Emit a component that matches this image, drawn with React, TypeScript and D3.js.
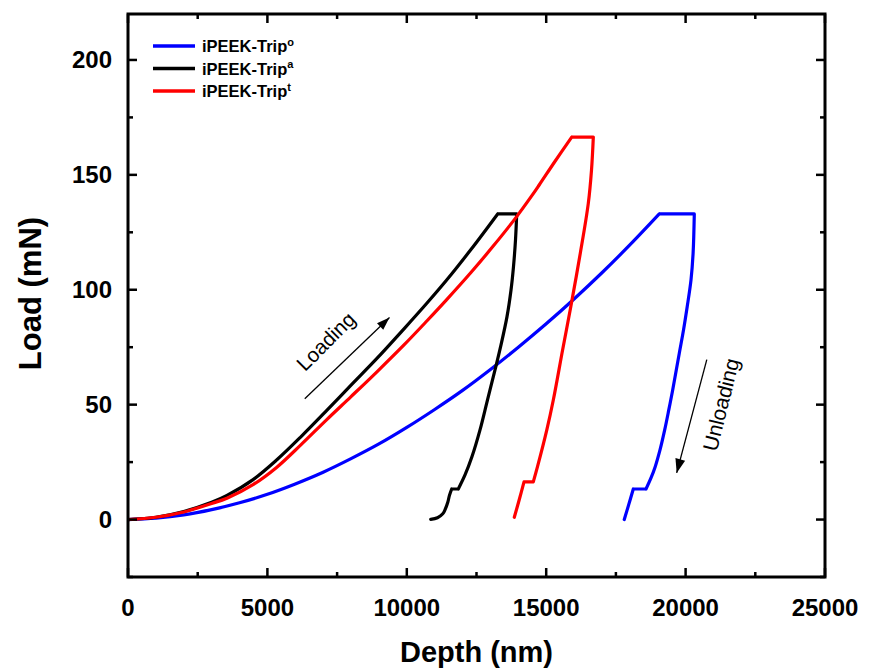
import React from "react";
import * as d3 from "d3";

// ---- Data (Depth nm, Load mN) ----
const seriesNames = ["iPEEK-Trip", "iPEEK-Trip", "iPEEK-Trip"];
const seriesSups = ["o", "a", "t"];
const seriesColors = ["#0000FF", "#000000", "#FF0000"];

const blueLoading: [number, number][] = [
  [0, 0], [1000, 0.6], [2000, 2.0], [3000, 4.3], [4000, 7.3], [5000, 11.0], [6000, 15.5],
  [7000, 20.6], [8000, 26.5], [9000, 32.9], [10000, 40.1], [11000, 47.9], [12000, 56.2],
  [13000, 65.3], [14000, 75.0], [15000, 85.2], [16000, 96.0], [17000, 107.4], [18000, 119.5],
  [19056, 133.0],
];
const blueUnloading: [number, number][] = [
  [20312, 133.0], [20269, 115.9], [20194, 104.3], [20057, 92.6], [19925, 82.5], [19774, 72.4],
  [19537, 56.4], [19397, 47.7], [19250, 39.0], [19082, 30.3], [18910, 23.0], [18759, 18.1],
  [18580, 13.3],
];
const blueTail: [number, number][] = [
  [18124, 13.3], [17960, 6.5], [17800, 0],
];

const blackLoading: [number, number][] = [
  [0, 0], [1000, 1.0], [2000, 3.5], [3000, 7.5], [3550, 10.5], [4500, 17.5], [5340, 26.0],
  [6200, 36.0], [7130, 47.5], [8000, 58.5], [8920, 70.0], [9900, 83.0], [10710, 94.0],
  [11415, 104.0], [12300, 117.5], [13260, 133.0],
];
const blackUnloading: [number, number][] = [
  [13942, 133.0], [13899, 121.7], [13827, 110.1], [13738, 99.9], [13594, 88.3], [13379, 76.0],
  [13164, 65.1], [12895, 52.1], [12626, 39.0], [12339, 27.4], [12088, 19.4], [11847, 13.3],
];
const blackTail: [number, number][] = [
  [11610, 13.3], [11530, 10.5], [11470, 7.5], [11380, 4.5], [11290, 2.5], [11100, 0.8], [10857, 0.1],
];

const redLoading: [number, number][] = [
  [0, 0], [1000, 1.0], [2000, 3.3], [3000, 7.0], [3550, 9.3], [4500, 15.3], [5340, 22.8],
  [6200, 32.5], [7130, 43.5], [8000, 53.5], [8920, 64.2], [9900, 76.0], [10710, 86.3],
  [11415, 95.5], [12300, 107.5], [13100, 119.0], [13920, 131.5], [14460, 140.5],
  [14760, 145.8], [15300, 155.6], [15915, 166.4],
];
const redUnloading: [number, number][] = [
  [16690, 166.4], [16625, 152.1], [16510, 137.6], [16223, 115.9], [15882, 92.6], [15588, 73.8],
  [15255, 52.0], [15022, 39.0], [14688, 23.0], [14537, 16.4],
];
const redTail: [number, number][] = [
  [14204, 16.4], [14030, 8.5], [13856, 1.0],
];

const xTicks = [0, 5000, 10000, 15000, 20000, 25000];
const xMinor = [2500, 7500, 12500, 17500, 22500];
const yTicks = [0, 50, 100, 150, 200];
const yMinor = [-25, 25, 75, 125, 175];

const series = [
  { load: blueLoading, unload: blueUnloading, tail: blueTail },
  { load: blackLoading, unload: blackUnloading, tail: blackTail },
  { load: redLoading, unload: redUnloading, tail: redTail },
];

export default function App() {
  const W = 872, H = 670;
  const L = 128, R = 825, T = 14, B = 577;
  const x = d3.scaleLinear().domain([0, 25000]).range([L, R]);
  const y = d3.scaleLinear().domain([-25, 220]).range([B, T]);

  const curved = d3.line<[number, number]>()
    .x((d) => x(d[0])).y((d) => y(d[1]))
    .curve(d3.curveCatmullRom.alpha(0.5));
  const straight = d3.line<[number, number]>()
    .x((d) => x(d[0])).y((d) => y(d[1]));

  const pathFor = (s: typeof series[number]) =>
    [
      curved(s.load),
      straight([s.load[s.load.length - 1], s.unload[0]]),
      curved(s.unload),
      straight([s.unload[s.unload.length - 1], s.tail[0]]),
      curved(s.tail),
    ].join("");

  const font = "'Liberation Sans', Arial, sans-serif";
  const majorLen = 9, minorLen = 5;

  const arrowHead = (x1: number, y1: number, x2: number, y2: number, len = 13, half = 4.5) => {
    const a = Math.atan2(y2 - y1, x2 - x1);
    const bx = x2 - len * Math.cos(a), by = y2 - len * Math.sin(a);
    const px = -Math.sin(a) * half, py = Math.cos(a) * half;
    return `M${x2},${y2}L${bx + px},${by + py}L${bx - px},${by - py}Z`;
  };

  const la = { x1: x(6340), y1: y(52.6), x2: x(9380), y2: y(87.9) };
  const ua = { x1: x(20760), y1: y(69.6), x2: x(19680), y2: y(20.3) };

  return (
    <svg width={W} height={H} style={{ position: "absolute", left: 0, top: 0 }} fontFamily={font}>
      <rect x={0} y={0} width={W} height={H} fill="#fff" />
      <defs>
        <clipPath id="plot">
          <rect x={L} y={T} width={R - L} height={B - T} />
        </clipPath>
      </defs>

      <g clipPath="url(#plot)">
        {series.map((s, i) => (
          <path key={i} d={pathFor(s)} fill="none" stroke={seriesColors[i]} strokeWidth={3.2}
            strokeLinejoin="round" strokeLinecap="round" />
        ))}
      </g>

      <g stroke="#000" strokeWidth={2.5}>
        {xTicks.map((t) => (
          <g key={"xt" + t}>
            <line x1={x(t)} x2={x(t)} y1={B} y2={B - majorLen} />
            <line x1={x(t)} x2={x(t)} y1={T} y2={T + majorLen} />
          </g>
        ))}
        {xMinor.map((t) => (
          <g key={"xm" + t}>
            <line x1={x(t)} x2={x(t)} y1={B} y2={B - minorLen} />
            <line x1={x(t)} x2={x(t)} y1={T} y2={T + minorLen} />
          </g>
        ))}
        {yTicks.map((t) => (
          <g key={"yt" + t}>
            <line x1={L} x2={L + majorLen} y1={y(t)} y2={y(t)} />
            <line x1={R} x2={R - majorLen} y1={y(t)} y2={y(t)} />
          </g>
        ))}
        {yMinor.map((t) => (
          <g key={"ym" + t}>
            <line x1={L} x2={L + minorLen} y1={y(t)} y2={y(t)} />
            <line x1={R} x2={R - minorLen} y1={y(t)} y2={y(t)} />
          </g>
        ))}
      </g>

      <rect x={L} y={T} width={R - L} height={B - T} fill="none" stroke="#000" strokeWidth={3} />

      <g fontSize={24} fontWeight="bold" fill="#000">
        {xTicks.map((t) => (
          <text key={"xl" + t} x={x(t)} y={B + 39} textAnchor="middle">{t}</text>
        ))}
        {yTicks.map((t) => (
          <text key={"yl" + t} x={L - 16} y={y(t) + 8.5} textAnchor="end">{t}</text>
        ))}
      </g>

      <text x={(L + R) / 2} y={H - 8} textAnchor="middle" fontSize={29} fontWeight="bold">Depth (nm)</text>
      <text transform={`translate(${41},${(T + B) / 2 - 2}) rotate(-90)`} textAnchor="middle"
        fontSize={31} fontWeight="bold">Load (mN)</text>

      <g>
        {seriesNames.map((n, i) => (
          <g key={"lg" + i} transform={`translate(0,${46 + i * 22.5})`}>
            <line x1={153} x2={195} y1={0} y2={0} stroke={seriesColors[i]} strokeWidth={3.5} />
            <text x={202} y={6} fontSize={16.5} fontWeight="bold">
              {n}
              <tspan dy={-6.5} fontSize={11}>{seriesSups[i]}</tspan>
            </text>
          </g>
        ))}
      </g>

      <line x1={la.x1} y1={la.y1} x2={la.x2} y2={la.y2} stroke="#000" strokeWidth={1.3} />
      <path d={arrowHead(la.x1, la.y1, la.x2, la.y2)} fill="#000" />
      <text transform={`translate(${x(7100)},${y(77.5)}) rotate(-45)`} textAnchor="middle"
        fontSize={20.5} dy={7}>Loading</text>

      <line x1={ua.x1} y1={ua.y1} x2={ua.x2} y2={ua.y2} stroke="#000" strokeWidth={1.3} />
      <path d={arrowHead(ua.x1, ua.y1, ua.x2, ua.y2, 14, 5)} fill="#000" />
      <text transform={`translate(${x(21280)},${y(50)}) rotate(-76)`} textAnchor="middle"
        fontSize={21} dy={7}>Unloading</text>
    </svg>
  );
}
